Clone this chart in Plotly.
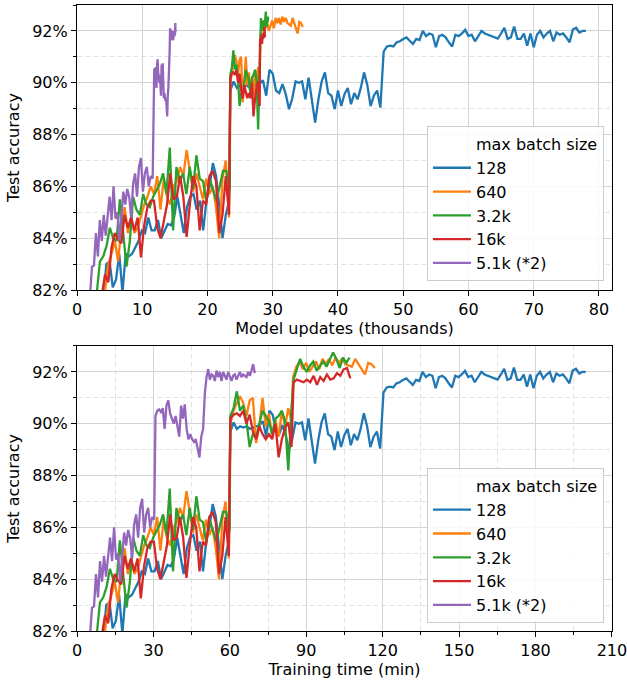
import numpy as np
import plotly.graph_objects as go

# ---------------------------------------------------------------------------
# Test accuracy (%) per evaluation, split into training phases.
# Each phase: (start, end) in thousands of model updates and in minutes.
# ---------------------------------------------------------------------------

# max batch size 128
acc_128_a = [81.5, 83.0, 83.1, 82.1, 82.4, 83.4, 81.9, 83.4, 83.3, 83.4,
             83.65, 83.9, 84.3, 84.2, 84.8, 84.3, 84.3, 84.7, 84.0, 84.3,
             84.55, 84.5, 84.8, 85.6, 84.9, 84.2, 85.2, 85.6, 85.7, 85.1,
             85.45, 84.3, 85.45, 86.0, 86.9, 86.4, 85.2, 84.0, 84.9, 85.45]
acc_128_b = [89.7, 90.05, 89.8, 89.9, 89.85, 89.9, 89.8, 89.85, 89.9, 89.95,
             90.1, 89.5, 90.5, 90.35, 89.7, 89.6, 89.95, 89.55, 88.98, 89.4,
             90.05, 90.0, 90.05, 89.36, 90.2, 89.36, 88.46, 89.36, 90.05, 90.4,
             89.6, 89.5, 88.98, 89.7, 89.1, 89.56, 89.8, 89.17, 89.6, 89.36,
             89.8, 90.4, 89.9, 89.1, 89.5, 89.7, 89.04]
acc_128_c = [91.2, 91.4, 91.43, 91.4, 91.56, 91.6, 91.69, 91.75, 91.62, 91.5,
             91.69, 91.65, 92.0, 91.8, 91.9, 91.85, 91.37, 91.8, 91.85, 91.75,
             91.56, 91.4, 91.85, 91.8, 91.9, 92.04, 91.8, 91.85, 91.6, 91.8,
             92.0, 91.9, 91.85, 91.8, 91.75, 91.7, 91.9, 92.12, 91.69, 91.75,
             92.17, 91.69, 91.69, 91.9, 91.43, 91.9, 91.37, 91.85, 92.0, 91.75,
             91.9, 92.0, 91.6, 91.94, 91.85, 91.9, 91.75, 91.56, 92.05, 92.12,
             91.94, 92.0, 92.0]
span_128_updates = [(4.0, 23.3), (23.5, 46.5), (47.0, 78.0)]
span_128_minutes = [(10.2, 59.6), (60.2, 119.0), (120.3, 199.7)]

# max batch size 640
acc_640_a = [82.0, 83.0, 83.4, 83.9, 83.1, 84.4, 85.2, 84.2, 84.8, 84.2,
             84.4, 84.9, 85.3, 85.6, 86.0, 85.7, 86.4, 85.1, 86.3, 85.6,
             85.3, 86.0, 86.2, 86.75, 86.4, 87.4, 86.5, 85.8, 86.5, 86.0,
             85.5, 86.3, 85.7, 86.0, 85.2, 84.0, 86.3, 87.0, 84.8]
acc_640_b = [90.0, 90.5, 90.8, 91.06, 90.8, 90.3, 90.9, 91.0, 89.25, 89.9,
             91.0, 89.9, 90.4, 89.5, 90.15, 89.5, 90.5, 89.9, 90.6, 90.1]
acc_640_c = [91.8, 92.2, 92.4, 92.1, 92.35, 92.0, 92.2, 92.4, 92.1, 92.5,
             92.3, 92.5, 92.25, 92.55, 92.35, 92.5, 92.3, 92.25, 92.2, 92.5,
             92.3, 92.05, 91.9, 92.35, 92.3, 92.15]
span_640_updates = [(4.3, 23.3), (23.5, 28.0), (28.1, 34.6)]
span_640_minutes = [(11.0, 59.6), (60.2, 84.2), (84.8, 116.9)]

# max batch size 3.2k
acc_3k2_a = [81.8, 83.1, 83.3, 83.7, 84.4, 84.0, 83.9, 85.5, 84.2, 82.9,
             83.9, 85.6, 85.1, 84.9, 85.7, 85.3, 85.2, 85.6, 85.85, 86.1,
             86.5, 85.7, 87.5, 84.3, 86.75, 86.2, 86.5, 85.7, 86.75, 85.9,
             87.2, 86.3, 86.2, 85.4, 86.3, 85.9, 85.45, 86.0, 86.6, 86.6,
             85.85]
acc_3k2_b = [90.3, 90.6, 91.25, 90.5, 90.7, 90.1, 89.1, 89.6, 89.5, 90.0,
             90.5, 90.3, 90.1, 89.6, 90.2, 90.3, 90.5, 90.1, 88.2, 90.6]
acc_3k2_c = [91.7, 92.1, 92.5, 92.2, 92.0, 92.25, 92.4, 92.05, 92.25, 92.4,
             92.2, 92.5, 92.75, 92.5, 92.15, 92.55, 92.35, 92.55]
span_3k2_updates = [(3.0, 23.4), (23.5, 28.0), (28.05, 29.3)]
span_3k2_minutes = [(7.7, 59.9), (60.2, 84.2), (85.0, 107.0)]

# max batch size 16k
acc_16k_a = [81.8, 82.6, 82.3, 83.65, 84.2, 83.95, 83.8, 84.9, 84.4, 84.8,
             84.3, 84.8, 83.26, 84.5, 85.2, 85.45, 85.45, 84.4, 84.0, 84.7,
             85.3, 86.5, 85.5, 85.6, 86.4, 85.6, 84.05, 85.3, 86.4, 86.0,
             84.3, 85.45, 85.3, 86.4, 86.6, 86.2, 84.2, 84.9, 86.4, 84.9]
acc_16k_b = [90.2, 90.35, 90.4, 90.3, 90.5, 90.0, 90.35, 89.7, 89.4, 89.9,
             89.6, 89.4, 89.6, 89.4, 90.0, 88.7, 89.4, 89.85, 90.05, 89.1]
acc_16k_c = [91.6, 91.7, 91.65, 91.6, 91.7, 91.6, 91.85, 91.5, 91.8, 91.65,
             91.9, 91.7, 91.75, 91.95, 91.85, 92.1, 92.15, 91.75]
span_16k_updates = [(3.8, 23.3), (23.5, 28.0), (28.05, 28.8)]
span_16k_minutes = [(9.7, 59.6), (60.2, 84.2), (85.0, 107.3)]

# max batch size 5.1k, learning rate x2
acc_5k1_a = [81.8, 82.9, 82.95, 84.2, 83.3, 84.7, 83.9, 84.9, 84.1, 84.75,
             85.6, 84.7, 86.0, 84.75, 85.0, 83.9, 84.9, 85.8, 85.3, 85.9,
             85.6, 84.8, 86.1, 86.5, 85.6, 86.75, 87.1, 85.8, 86.5, 86.75,
             86.0, 86.4, 86.3]
acc_5k1_b = [90.3, 90.5, 90.55, 90.45, 90.6, 89.8, 90.7, 90.9, 90.4, 90.2,
             90.0, 90.3, 89.9, 89.5, 90.7, 90.2, 90.75, 89.8, 89.4, 89.6,
             89.4, 89.3, 89.4, 89.1, 88.7, 89.5, 89.8]
acc_5k1_c = [91.2, 91.8, 92.1, 91.7, 91.9, 91.85, 91.65, 92.05, 91.8, 92.0,
             91.65, 92.0, 91.85, 91.7, 92.0, 91.8, 91.65, 91.85, 91.9, 91.7,
             91.85, 92.0, 91.8, 91.9, 91.85, 91.8, 92.0, 91.85, 92.05, 92.3,
             91.95]
span_5k1_updates = [(2.0, 11.6), (11.75, 14.0), (14.2, 15.1)]
span_5k1_minutes = [(5.1, 30.3), (30.8, 49.5), (50.2, 69.8)]

series_names = ["128", "640", "3.2k", "16k", "5.1k (*2)"]
series_colors = ["#1f77b4", "#ff7f0e", "#2ca02c", "#d62728", "#9467bd"]
series_acc = [
    [acc_128_a, acc_128_b, acc_128_c],
    [acc_640_a, acc_640_b, acc_640_c],
    [acc_3k2_a, acc_3k2_b, acc_3k2_c],
    [acc_16k_a, acc_16k_b, acc_16k_c],
    [acc_5k1_a, acc_5k1_b, acc_5k1_c],
]
series_updates = [span_128_updates, span_640_updates, span_3k2_updates,
                  span_16k_updates, span_5k1_updates]
series_minutes = [span_128_minutes, span_640_minutes, span_3k2_minutes,
                  span_16k_minutes, span_5k1_minutes]

y_ticks = [82, 84, 86, 88, 90, 92]
y_tick_labels = [f"{v}%" for v in y_ticks]
x_ticks_updates = [0, 10, 20, 30, 40, 50, 60, 70, 80]
x_ticks_minutes = [0, 30, 60, 90, 120, 150, 180, 210]


def phase_positions(spans, phases):
    """Evaluation points are evenly spaced inside each phase."""
    xs = []
    for (lo, hi), vals in zip(spans, phases):
        xs.extend(np.linspace(lo, hi, len(vals)).tolist())
    return xs


FONT = "DejaVu Sans"
MAJOR_GRID = "#d4d4d4"
MINOR_GRID = "#e3e3e3"

fig = go.Figure()

for xa, ya, leg, spans_all in [("x", "y", "legend", series_updates),
                               ("x2", "y2", "legend2", series_minutes)]:
    # header row of the legend (no line sample)
    fig.add_trace(go.Scatter(
        x=[None], y=[None], mode="lines", name="max batch size",
        line=dict(color="rgba(0,0,0,0)", width=2),
        xaxis=xa, yaxis=ya, legend=leg, hoverinfo="skip"))
    for name, color, phases, spans in zip(series_names, series_colors,
                                          series_acc, spans_all):
        ys = [v for ph in phases for v in ph]
        xs = phase_positions(spans, phases)
        fig.add_trace(go.Scatter(
            x=xs, y=ys, mode="lines", name=name,
            line=dict(color=color, width=2.3),
            xaxis=xa, yaxis=ya, legend=leg))

axis_common = dict(
    showline=True, linecolor="black", linewidth=1.2, mirror=True,
    ticks="outside", ticklen=5, tickwidth=1.2, tickcolor="black",
    showgrid=True, gridcolor=MAJOR_GRID, gridwidth=1.3,
    zeroline=False, automargin=False, ticklabeloverflow="allow",
    tickfont=dict(family=FONT, size=16, color="black"),
)

y_common = dict(
    axis_common,
    range=[82, 93], tickmode="array", tickvals=y_ticks, ticktext=y_tick_labels,
    minor=dict(dtick=1, tick0=82, ticks="outside", ticklen=3,
               tickcolor="black", showgrid=True, gridcolor=MINOR_GRID,
               griddash="5px,3px", gridwidth=1),
    title=dict(text="Test accuracy", font=dict(family=FONT, size=16),
               standoff=8),
)

legend_common = dict(
    x=0.985, xanchor="right", yanchor="bottom",
    bgcolor="rgba(255,255,255,0.85)", bordercolor="#cccccc", borderwidth=1,
    font=dict(family=FONT, size=16), itemwidth=38,
)

fig.update_layout(
    width=627, height=684,
    margin=dict(l=77, r=15, t=5, b=53),
    paper_bgcolor="white", plot_bgcolor="white",
    font=dict(family=FONT, size=16, color="black"),
    showlegend=True,
    xaxis=dict(axis_common, domain=[0, 1], anchor="y", range=[0, 82],
               tickmode="array", tickvals=x_ticks_updates,
               title=dict(text="Model updates (thousands)",
                          font=dict(family=FONT, size=16), standoff=4)),
    yaxis=dict(y_common, domain=[0.5447, 1], anchor="x"),
    xaxis2=dict(axis_common, domain=[0, 1], anchor="y2", range=[0, 210.02],
                tickmode="array", tickvals=x_ticks_minutes,
                minor=dict(dtick=15, tick0=0, ticks="outside", ticklen=3,
                           tickcolor="black", showgrid=True,
                           gridcolor=MINOR_GRID, griddash="5px,3px",
                           gridwidth=1),
                title=dict(text="Training time (min)",
                           font=dict(family=FONT, size=16), standoff=4)),
    yaxis2=dict(y_common, domain=[0, 0.4553], anchor="x2"),
    legend=dict(legend_common, y=0.559),
    legend2=dict(legend_common, y=0.0128),
)

fig.write_html("out.html")
